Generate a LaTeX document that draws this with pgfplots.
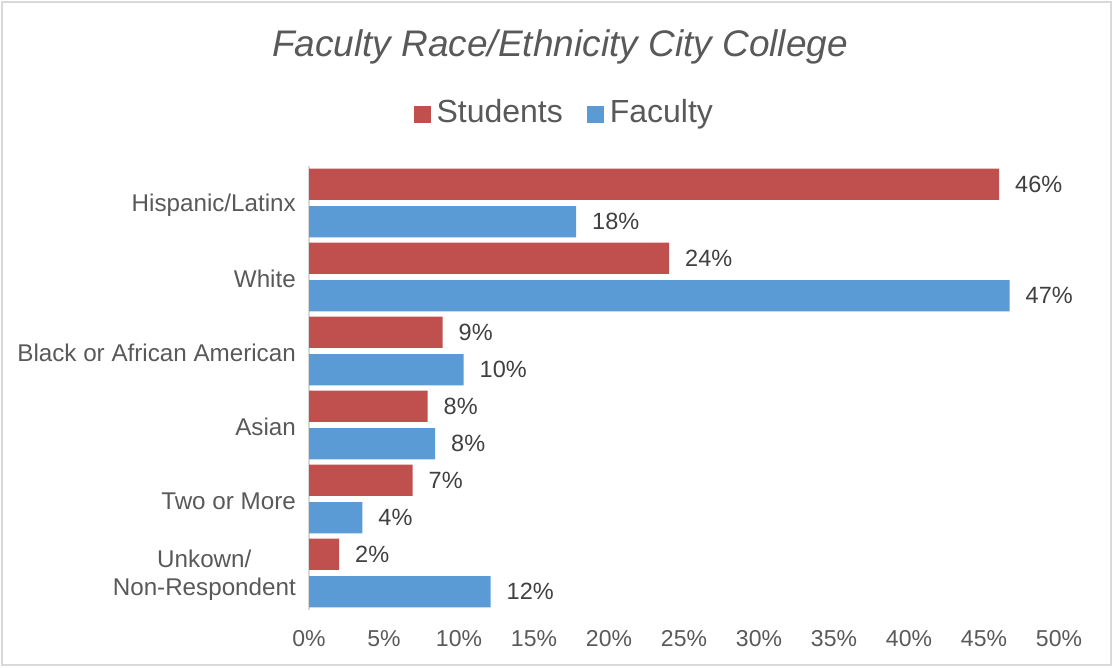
\documentclass[border=0pt]{standalone}
\usepackage{fontspec}
\setmainfont{Liberation Sans}
\usepackage{pgfplots}
\pgfplotsset{compat=1.18}
\definecolor{sred}{HTML}{C0504D}
\definecolor{fblue}{HTML}{5B9BD5}
\definecolor{txt}{HTML}{595959}
\definecolor{dtxt}{HTML}{404040}
\begin{document}
\begin{tikzpicture}
\useasboundingbox (0pt,0pt) rectangle (1113pt,667pt);
\draw[color=black!15, line width=1.5pt] (2pt,2pt) rectangle (1111pt,665pt);
\begin{axis}[
  at={(309pt,57pt)}, anchor=south west, scale only axis,
  width=750pt, height=444pt,
  xbar, bar width=0.42,
  xmin=0, xmax=50, ymin=-0.5, ymax=5.5,
  /pgf/number format/assume math mode=true,
  xtick={0,5,...,50},
  xticklabels={0\%,5\%,10\%,15\%,20\%,25\%,30\%,35\%,40\%,45\%,50\%},
  ytick={0,...,5},
  yticklabels={{Unkown/\\Non-Respondent},Two or More,Asian,Black or African American,White,Hispanic/Latinx},
  major tick length=0pt,
  axis lines*=left,
  axis line style={-},
  x axis line style={draw=none},
  y axis line style={draw=black!15, line width=1.2pt},
  x tick label style={anchor=base, inner sep=0pt, yshift=-36.5pt, font=\fontsize{23}{27.5}\selectfont, text=txt},
  y tick label style={anchor=east, inner sep=0pt, xshift=-13pt, yshift=-2pt, align=center, font=\fontsize{24.2}{27.5}\selectfont, text=txt},
  nodes near coords={\pgfmathprintnumber[fixed,precision=0]{\pgfplotspointmeta}\%},
  nodes near coords style={anchor=west, inner sep=0pt, xshift=16pt, font=\fontsize{23.5}{27.5}\selectfont, text=dtxt},
  title={Faculty Race/Ethnicity City College},
  title style={at={(0.3347,1.234)}, anchor=base, inner sep=0pt, font=\fontsize{37}{44}\selectfont\itshape, text=txt},
  legend style={at={(0.339,1.1215)}, anchor=center, legend columns=2, draw=none, fill=none,
    font=\fontsize{32}{36}\selectfont, text=txt, nodes={inner sep=0pt},
    /tikz/every odd column/.append style={column sep=6pt},
    /tikz/every even column/.append style={column sep=24pt}},
  legend image code/.code={\fill[#1] (0pt,-11pt) rectangle (17pt,6pt);},
]
\addplot[fill=sred, draw=none, bar shift=0.253] coordinates {
  (46.0,5) (24.0,4) (8.9,3) (7.9,2) (6.9,1) (2.0,0)};
\addlegendentry{Students}
\addplot[fill=fblue, draw=none, bar shift=-0.253] coordinates {
  (17.8,5) (46.7,4) (10.3,3) (8.4,2) (3.55,1) (12.1,0)};
\addlegendentry{Faculty}
\end{axis}
\end{tikzpicture}
\end{document}
